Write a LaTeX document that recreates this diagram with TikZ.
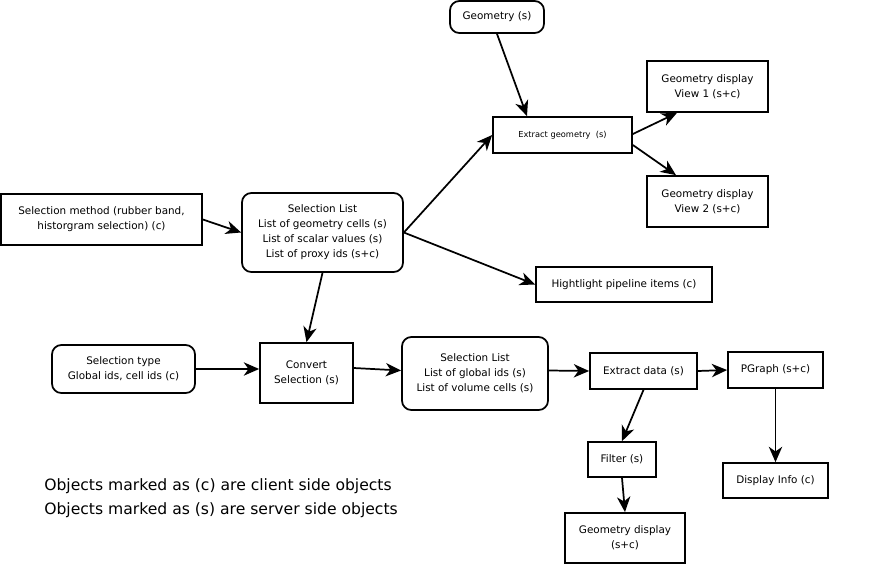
\documentclass[tikz,border=0pt]{standalone}
\usepackage{fontspec}
\setmainfont{DejaVu Sans}
\usetikzlibrary{arrows.meta,calc}
\begin{document}
\begin{tikzpicture}[x=0.75pt,y=-0.75pt,
  every node/.style={font=\fontsize{7.8}{11.25}\selectfont, align=center, inner sep=0pt},
  bx/.style 2 args={draw, line width=1.3pt, minimum width=#1*0.75pt, minimum height=#2*0.75pt},
  rbx/.style 2 args={bx={#1}{#2}, rounded corners=7pt},
  arr/.style={line width=1.3pt, -{Stealth[length=11.5pt,width=10pt,inset=3.5pt]}},
  note/.style={font=\fontsize{11.7}{14}\selectfont, anchor=west}]
\useasboundingbox (0,0) rectangle (890,565);
\node[rbx={94}{32}] (geo) at (497,17) {Geometry (s)};
\node[bx={139}{36}, font=\fontsize{6.2}{8}\selectfont] (exg) at (562.5,135) {Extract geometry\ \ (s)};
\node[bx={121}{51}] (v1) at (707.5,86.5) {Geometry display\\View 1 (s+c)};
\node[bx={121}{51}] (v2) at (707.5,201.5) {Geometry display\\View 2 (s+c)};
\node[bx={201}{51}] (selm) at (101.5,219.5) {Selection method (rubber band,\\historgram selection) (c)};
\node[rbx={161}{79}] (sl1) at (322.5,232.5) {Selection List\\List of geometry cells (s)\\List of scalar values (s)\\List of proxy ids (s+c)};
\node[bx={176}{35}] (hl) at (624,284.5) {Hightlight pipeline items (c)};
\node[rbx={143}{48}] (st) at (123.5,369) {Selection type\\Global ids, cell ids (c)};
\node[bx={93}{60}] (cv) at (306.5,373) {Convert\\Selection (s)};
\node[rbx={146}{73}] (sl2) at (475,373.5) {Selection List\\List of global ids (s)\\List of volume cells (s)};
\node[bx={107}{36}] (exd) at (643.5,371) {Extract data (s)};
\node[bx={95}{36}] (pg) at (775.5,370) {PGraph (s+c)};
\node[bx={68}{35}] (fil) at (622,459.5) {Filter (s)};
\node[bx={105}{35}] (di) at (775.5,480.5) {Display Info (c)};
\node[bx={120}{50}] (gd) at (625,538) {Geometry display\\(s+c)};
\node[note] (n1) at (44,486) {Objects marked as (c) are client side objects};
\node[note] (n2) at (44,510) {Objects marked as (s) are server side objects};
\draw[arr] (geo.south) -- ($(exg.north)+(-35.5,0)$);
\draw[arr] (sl1.east) -- (exg.west);
\draw[arr] (sl1.east) -- (hl.west);
\draw[arr] ($(exg.east)+(0,-1)$) -- ($(v1.south)+(-30.5,0)$);
\draw[arr] ($(exg.east)+(0,10)$) -- ($(v2.north)+(-31.5,0)$);
\draw[arr] (selm.east) -- (sl1.west);
\draw[arr] (sl1.south) -- (cv.north);
\draw[arr] (st.east) -- (st.east -| cv.west);
\draw[arr] ($(cv.east)+(0,-5)$) -- ($(sl2.west)+(0,-3)$);
\draw[arr] ($(sl2.east)+(0,-3)$) -- (exd.west);
\draw[arr] (exd.east) -- (pg.west);
\draw[arr] (exd.south) -- (fil.north);
\draw[arr] (fil.south) -- (gd.north);
\draw[arr] (pg.south) -- (di.north);
\end{tikzpicture}
\end{document}
